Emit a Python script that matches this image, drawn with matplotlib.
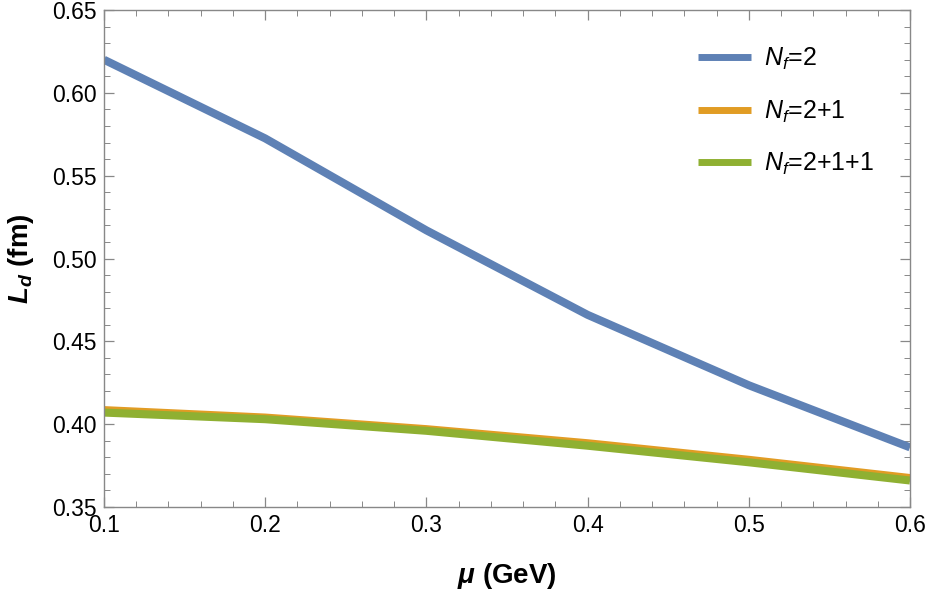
import matplotlib
matplotlib.use('Agg')
import matplotlib.pyplot as plt
from matplotlib.ticker import MultipleLocator

plt.rcParams['font.family'] = ['Liberation Sans', 'DejaVu Sans']
plt.rcParams['mathtext.fontset'] = 'custom'
plt.rcParams['mathtext.rm'] = 'Liberation Sans'
plt.rcParams['mathtext.it'] = 'Liberation Sans:italic'
plt.rcParams['mathtext.bf'] = 'Liberation Sans:bold:italic'

# data
mu = [0.1, 0.2, 0.3, 0.4, 0.5, 0.6]
ld_nf2 = [0.620, 0.5725, 0.517, 0.466, 0.4235, 0.386]
ld_nf21 = [0.4085, 0.404, 0.397, 0.3885, 0.3785, 0.3675]
ld_nf211 = [0.407, 0.403, 0.396, 0.387, 0.377, 0.366]
labels = [r'$N_f$=2', r'$N_f$=2+1', r'$N_f$=2+1+1']
colors = ['#5E81B5', '#E19C24', '#8FB032']

fig = plt.figure(figsize=(9.26, 5.96), dpi=100)
ax = fig.add_axes([0.1123, 0.1493, 0.8704, 0.8339])

for ys, lab, c in zip([ld_nf2, ld_nf21, ld_nf211], labels, colors):
    ax.plot(mu, ys, color=c, lw=5.8, label=lab, solid_capstyle='butt')

ax.set_xlim(0.1, 0.6)
ax.set_ylim(0.35, 0.65)
ax.xaxis.set_major_locator(MultipleLocator(0.1))
ax.xaxis.set_minor_locator(MultipleLocator(0.02))
ax.yaxis.set_major_locator(MultipleLocator(0.05))
ax.yaxis.set_minor_locator(MultipleLocator(0.01))
ax.xaxis.set_major_formatter(plt.FuncFormatter(lambda v, p: '%.1f' % v))
ax.yaxis.set_major_formatter(plt.FuncFormatter(lambda v, p: '%.2f' % v))

for s in ax.spines.values():
    s.set_color('#888888')
    s.set_linewidth(1.0)
ax.tick_params(which='both', direction='in', top=True, right=True,
               color='#888888', labelsize=16.5, labelcolor='black')
ax.tick_params(which='major', length=7, width=0.9, pad=5)
ax.tick_params(which='minor', length=4, width=0.7)

ax.set_xlabel(r'$\mathbf{μ}$ (GeV)', fontsize=20, fontweight='bold', labelpad=17)
ax.set_ylabel(r'$\mathbf{L_d}$ (fm)', fontsize=20, fontweight='bold', labelpad=12)

leg = fig.legend(*ax.get_legend_handles_labels(), loc='upper left',
                 bbox_to_anchor=(698 / 926, 1 - 46 / 596), frameon=False,
                 fontsize=18, handlelength=2.1, handletextpad=0.55,
                 labelspacing=1.05, borderpad=0, borderaxespad=0)
for h in leg.get_lines():
    h.set_linewidth(5)

fig.savefig('out.png', dpi=100)
